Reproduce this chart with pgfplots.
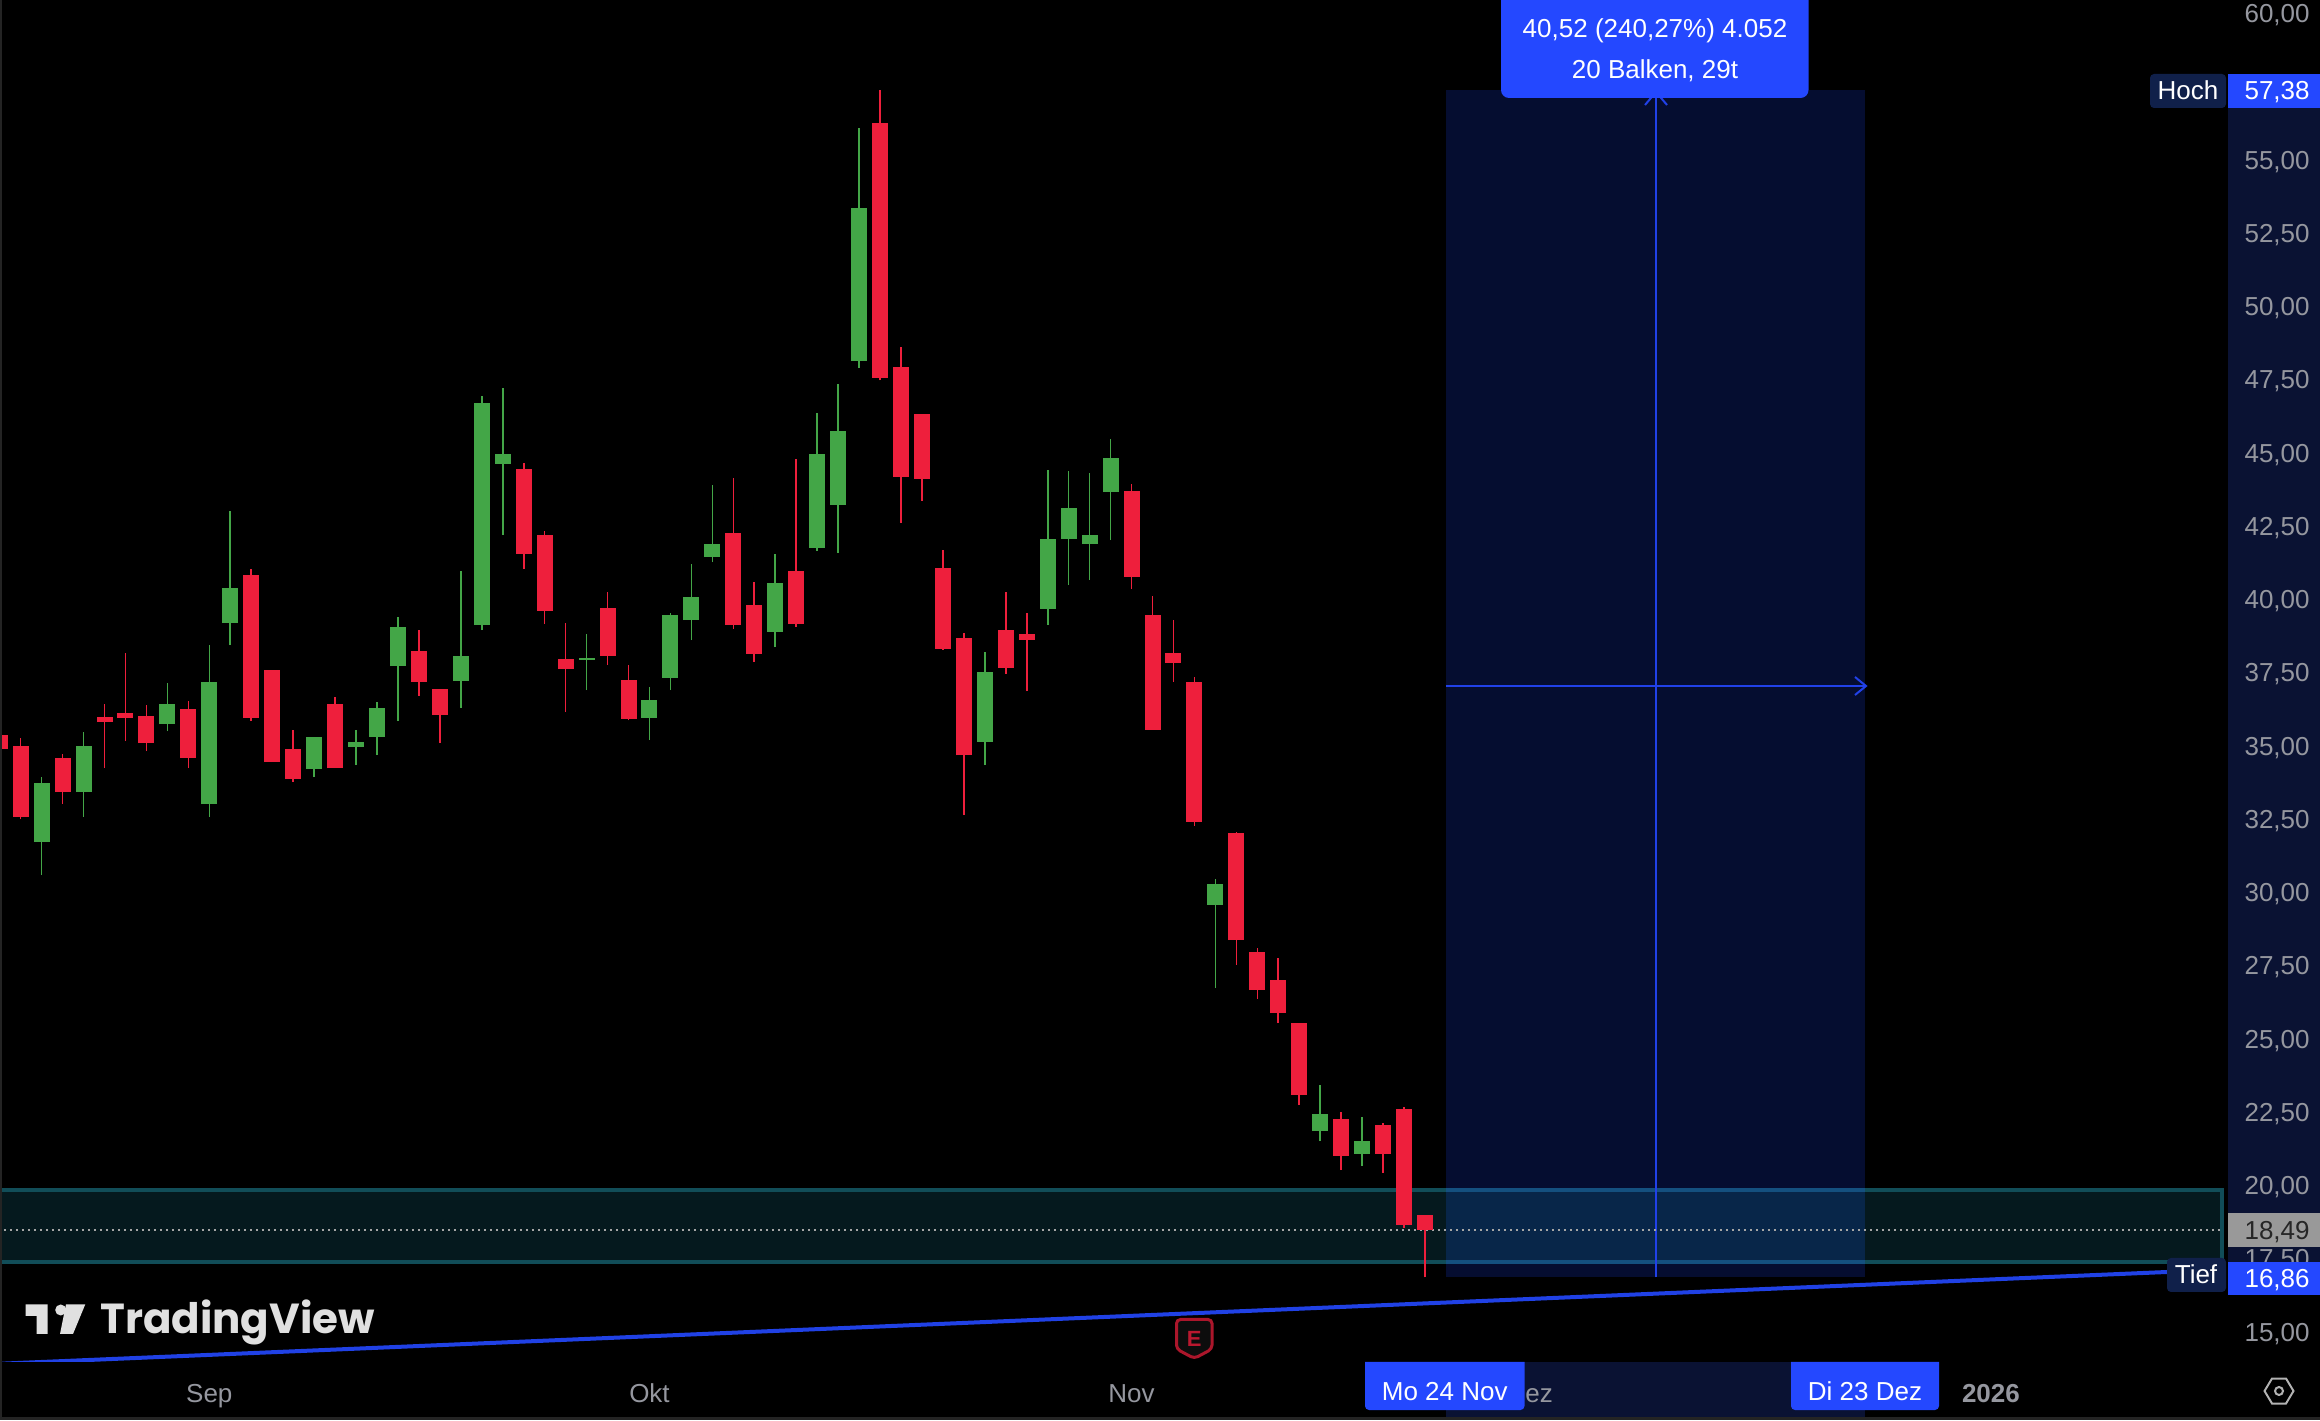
\documentclass[border=0pt]{standalone}
\usepackage{fontspec}
\usepackage{pgfplots}
\usepackage{pgfplotstable}
\pgfplotsset{compat=1.18}
\setmainfont{Liberation Sans}
\newfontfamily\tvfont{Poppins}
\definecolor{cred}{HTML}{EE1F3C}
\definecolor{cgreen}{HTML}{43A647}
\definecolor{navybox}{HTML}{050D30}
\definecolor{navypane}{HTML}{0A1233}
\definecolor{tealfill}{HTML}{05191E}
\definecolor{tealline}{HTML}{114D58}
\definecolor{overfill}{HTML}{082649}
\definecolor{overline}{HTML}{14507F}
\definecolor{lineblue}{HTML}{2141E8}
\definecolor{tvblue}{HTML}{2448FF}
\definecolor{labelnavy}{HTML}{10204A}
\definecolor{axgray}{HTML}{95979F}
\pgfplotstableread{
i o h l c
0 35.37 35.37 34.89 34.89
1 34.99 35.25 32.49 32.58
3 34.58 34.72 33.01 33.42
5 35.98 36.42 34.24 35.81
6 36.12 38.16 35.16 35.95
7 36.01 36.39 34.82 35.09
9 36.25 36.53 34.24 34.58
12 40.83 41.03 35.84 35.95
13 37.58 37.58 34.44 34.44
14 34.89 35.53 33.77 33.86
16 36.42 36.66 34.24 34.24
20 38.23 38.95 36.70 37.17
21 36.94 36.94 35.09 36.05
25 44.45 44.64 41.03 41.55
26 42.19 42.33 39.17 39.60
27 37.96 39.18 36.15 37.62
29 39.70 40.26 37.76 38.07
30 37.25 37.76 35.87 35.91
35 42.26 44.15 38.99 39.13
36 39.81 40.59 37.86 38.14
38 40.96 44.79 39.06 39.17
42 56.27 57.38 47.47 47.56
43 47.92 48.60 42.61 44.18
44 46.32 46.32 43.36 44.11
45 41.06 41.69 38.28 38.31
46 38.68 38.84 32.64 34.67
48 38.96 40.25 37.46 37.65
49 38.82 39.53 36.87 38.61
54 43.69 43.94 40.35 40.77
55 39.46 40.11 35.54 35.54
56 38.17 39.29 37.18 37.82
57 37.18 37.35 32.26 32.40
59 32.04 32.07 27.52 28.37
60 27.96 28.09 26.36 26.67
61 27.01 27.76 25.54 25.88
62 25.54 25.54 22.74 23.08
64 22.26 22.50 20.52 21.00
66 22.06 22.13 20.42 21.07
67 22.60 22.67 18.54 18.64
68 18.99 18.99 16.86 18.49
}\downbars
\pgfplotstableread{
i o h l c
2 31.71 33.94 30.59 33.73
4 33.42 35.47 32.58 34.99
8 35.74 37.14 35.50 36.42
10 33.01 38.44 32.57 37.17
11 39.19 43.03 38.44 40.38
15 34.21 35.30 33.93 35.30
17 34.96 35.53 34.34 35.13
18 35.30 36.48 34.68 36.29
19 37.72 39.39 35.84 39.05
22 37.21 40.96 36.29 38.06
23 39.12 46.94 38.95 46.71
24 44.62 47.20 42.20 44.96
28 37.93 38.81 36.90 37.99
31 35.95 36.99 35.20 36.57
32 37.32 39.53 36.90 39.46
33 39.29 41.20 38.61 40.07
34 41.45 43.90 41.27 41.88
37 38.89 41.55 38.37 40.56
39 41.76 46.36 41.66 44.96
40 43.22 47.35 41.59 45.75
41 48.13 56.09 47.89 53.36
47 35.14 38.21 34.34 37.51
50 39.67 44.41 39.13 42.05
51 42.05 44.37 40.49 43.12
52 41.88 44.32 40.66 42.20
53 43.66 45.47 42.02 44.82
58 29.57 30.45 26.73 30.28
63 21.85 23.42 21.51 22.43
65 21.07 22.33 20.66 21.51
}\upbars
\pgfplotsset{
  wick/.style={draw=none,mark=none,forget plot,
    error bars/.cd,y dir=plus,y explicit,error mark=none,
    error bar style={line width=0.8pt,draw=#1,solid}},
  body/.style={draw=none,mark=none,forget plot,
    error bars/.cd,y dir=plus,y explicit,error mark=none,
    error bar style={line width=8pt,draw=#1,solid}},
}
\begin{document}
\begin{tikzpicture}
\path[use as bounding box] (0,0) rectangle (1160pt,710pt);
\fill[black] (0,0) rectangle (1160pt,710pt);
\begin{axis}[
  at={(0,0)},anchor=south west,
  scale only axis,width=1160pt,height=710pt,
  xmin=0.0138,xmax=110.70,ymin=11.99,ymax=60.454,
  axis on top=true,
  axis line style={draw=none},
  major tick length=0pt,
  tick style={draw=none},
  ytick pos=right,yticklabel pos=right,
  xtick pos=bottom,
  ytick={15,17.5,20,22.5,25,27.5,30,32.5,35,37.5,40,42.5,45,47.5,50,52.5,55,57.5,60},
  yticklabel style={/pgf/number format/.cd,fixed,fixed zerofill,precision=2,use comma,assume math mode=true,
    /tikz/.cd,anchor=base east,xshift=-5pt,yshift=-4.65pt,inner sep=0pt,
    font=\fontsize{13pt}{15pt}\selectfont,text=axgray},
  xtick={10,31,54,73,95},
  xticklabels={Sep,Okt,Nov,Dez,{\textbf{2026}}},
  xticklabel style={anchor=base,yshift=9pt,inner sep=0pt,
    font=\fontsize{13pt}{15pt}\selectfont,text=axgray},
]
% price pane highlight and long-position box
\addplot[fill=navypane,draw=none,forget plot] coordinates {(106.33,16.86)(110.7,16.86)(110.7,57.38)(106.33,57.38)} -- cycle;
\addplot[fill=navybox,draw=none,forget plot] coordinates {(69,16.86)(89,16.86)(89,57.38)(69,57.38)} -- cycle;
% zone
\addplot[fill=tealfill,draw=none,forget plot] coordinates {(0.0138,17.38)(106.02,17.38)(106.02,19.84)(0.0138,19.84)} -- cycle;
\addplot[fill=overfill,draw=none,forget plot] coordinates {(69,17.38)(89,17.38)(89,19.84)(69,19.84)} -- cycle;
\addplot[draw=tealline,line width=2pt,forget plot] coordinates {(0.0138,19.84)(106.02,19.84)(106.02,17.38)(0.0138,17.38)};
\addplot[draw=overline,line width=2pt,forget plot] coordinates {(69,19.84)(89,19.84)};
\addplot[draw=overline,line width=2pt,forget plot] coordinates {(69,17.38)(89,17.38)};
% measure lines
\addplot[draw=lineblue,line width=1pt,forget plot] coordinates {(79,16.86)(79,57.38)};
\addplot[draw=lineblue,line width=1pt,forget plot] coordinates {(69,37.05)(89,37.05)};
% last price
\addplot[draw=white!65!black,line width=1pt,dash pattern=on 1pt off 2pt,forget plot] coordinates {(0.2,18.49)(106.02,18.49)};
% candles
\addplot[wick=cgreen] table[x=i,y=l,y error plus expr=\thisrow{h}-\thisrow{l}] {\upbars};
\addplot[body=cgreen] table[x=i,y=o,y error plus expr=\thisrow{c}-\thisrow{o}] {\upbars};
\addplot[wick=cred] table[x=i,y=l,y error plus expr=\thisrow{h}-\thisrow{l}] {\downbars};
\addplot[body=cred] table[x=i,y=c,y error plus expr=\thisrow{o}-\thisrow{c}] {\downbars};
% range line
\addplot[draw=tvblue!90!black,line width=2pt,forget plot] coordinates {(0.0138,13.91)(105,17.09)};
% time axis strip
\addplot[fill=black,draw=none,forget plot] coordinates {(0.0138,11.99)(110.7,11.99)(110.7,13.97)(0.0138,13.97)} -- cycle;
\addplot[fill=navypane,draw=none,forget plot] coordinates {(69,12.05)(89,12.05)(89,13.97)(69,13.97)} -- cycle;
\end{axis}
% annotations, in pixels of the reference
\begin{scope}[shift={(0,710pt)},x=0.5pt,y=-0.5pt,every node/.style={inner sep=0pt,font=\fontsize{13pt}{15pt}\selectfont}]
\fill[white!14!black] (0,0) rectangle (2,1420);
\fill[white!14!black] (0,1417) rectangle (2320,1420);
% chevrons
\draw[lineblue,line width=1pt] (1645,105)--(1656,92)--(1667,105);
\draw[lineblue,line width=1pt] (1855,677)--(1866,686)--(1855,695);
% info box
\fill[tvblue,rounded corners=4pt] (1501,-20) rectangle (1808.5,98);
\node[text=white,anchor=base] at (1655,38) {40,52 (240,27\%) 4.052};
\node[text=white,anchor=base] at (1655,79) {20 Balken, 29t};
% Hoch
\fill[labelnavy,rounded corners=2pt] (2150,74) rectangle (2226,108);
\node[text=white,anchor=base] at (2188,100) {Hoch};
\fill[tvblue] (2228,74) rectangle (2320,108);
\node[text=white,anchor=base east] at (2310,100) {57,38};
% last price
\fill[white!60!black] (2228,1213) rectangle (2320,1247);
\node[text=black!85,anchor=base east] at (2310,1239.5) {18,49};
% Tief
\fill[labelnavy,rounded corners=2pt] (2167,1258) rectangle (2226,1292);
\node[text=white,anchor=base] at (2196,1284) {Tief};
\fill[tvblue] (2228,1262) rectangle (2320,1295);
\node[text=white,anchor=base east] at (2310,1287) {16,86};
% date labels
\fill[tvblue] (1365,1362) -- (1524.5,1362) [rounded corners=2pt] -- (1524.5,1410) -- (1365,1410) [sharp corners] -- cycle;
\node[text=white,anchor=base] at (1444.7,1401) {Mo 24 Nov};
\fill[tvblue] (1791,1362) -- (1939,1362) [rounded corners=2pt] -- (1939,1410) -- (1791,1410) [sharp corners] -- cycle;
\node[text=white,anchor=base] at (1865,1401) {Di 23 Dez};
% earnings marker
\draw[draw=white!0!cred!72!black,line width=1.5pt,rounded corners=2pt,fill=black!95!white]
  (1176.5,1319.5)--(1212,1319.5)--(1212,1349)--(1194.3,1358.5)--(1176.5,1349)--cycle;
\node[text=cred!78!black,anchor=base,font=\fontsize{11pt}{13pt}\selectfont\bfseries] at (1194.3,1346) {E};
% settings icon
\draw[white!70!black,line width=1pt] (2264.5,1391)--(2272,1378.5)--(2286,1378.5)--(2293.5,1391)--(2286,1403.5)--(2272,1403.5)--cycle;
\draw[white!70!black,line width=1pt] (2279,1391) circle (4);
% logo
\fill[white!88!black] (25.7,1304.3)--(47.7,1304.3)--(47.7,1334)--(36.7,1334)--(36.7,1316)--(25.7,1316)--cycle;
\fill[white!88!black] (60.7,1310) circle (5.5);
\fill[white!88!black] (66,1304.3)--(85.3,1304.3)--(73,1334)--(60,1334)--cycle;
\node[text=white!88!black,anchor=base west,font=\tvfont\bfseries\fontsize{21pt}{24pt}\selectfont] at (100,1334) {TradingView};
\end{scope}
\end{tikzpicture}
\end{document}
